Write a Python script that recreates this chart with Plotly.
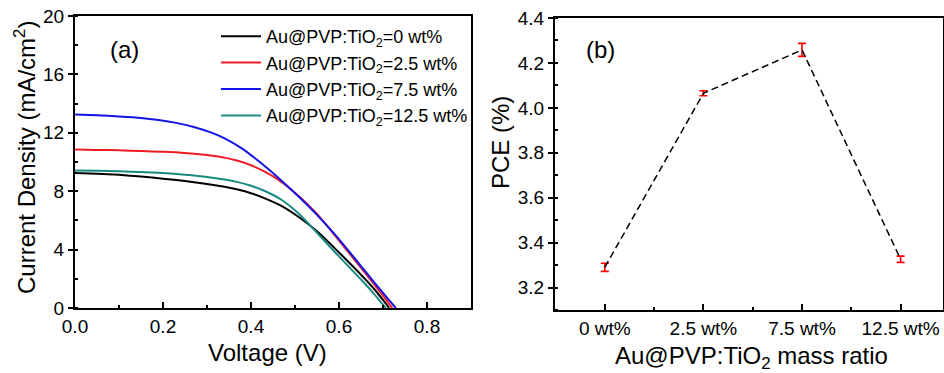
import plotly.graph_objects as go

# ---------------- data: panel (a) J-V curves ----------------
v_0wt = [0.0, 0.05, 0.1, 0.15, 0.2, 0.25, 0.3, 0.34, 0.37, 0.4, 0.43, 0.47, 0.51, 0.55, 0.59, 0.62, 0.65, 0.68, 0.70, 0.714]
j_0wt = [9.25, 9.20, 9.12, 9.00, 8.86, 8.70, 8.50, 8.30, 8.11, 7.86, 7.53, 6.98, 6.20, 5.25, 4.10, 3.20, 2.28, 1.30, 0.55, 0.0]

v_25wt = [0.0, 0.05, 0.1, 0.15, 0.2, 0.25, 0.3, 0.34, 0.37, 0.4, 0.43, 0.46, 0.5, 0.55, 0.59, 0.62, 0.65, 0.68, 0.70, 0.721]
j_25wt = [10.86, 10.83, 10.80, 10.75, 10.70, 10.62, 10.48, 10.30, 10.08, 9.78, 9.35, 8.82, 7.90, 6.45, 5.00, 3.88, 2.75, 1.62, 0.85, 0.0]

v_75wt = [0.0, 0.05, 0.1, 0.15, 0.19, 0.23, 0.27, 0.31, 0.34, 0.38, 0.41, 0.44, 0.47, 0.51, 0.55, 0.59, 0.62, 0.65, 0.68, 0.71, 0.729]
j_75wt = [13.25, 13.20, 13.12, 13.02, 12.88, 12.68, 12.40, 12.01, 11.62, 10.92, 10.24, 9.50, 8.70, 7.58, 6.38, 5.06, 3.98, 2.87, 1.76, 0.68, 0.0]

v_125wt = [0.0, 0.05, 0.1, 0.15, 0.2, 0.25, 0.3, 0.34, 0.37, 0.4, 0.43, 0.47, 0.51, 0.55, 0.59, 0.62, 0.65, 0.68, 0.706]
j_125wt = [9.42, 9.40, 9.36, 9.31, 9.24, 9.13, 8.98, 8.80, 8.62, 8.37, 8.03, 7.40, 6.42, 5.15, 3.85, 2.90, 1.95, 0.95, 0.0]

series_names = [
    "Au@PVP:TiO<sub>2</sub>=0 wt%",
    "Au@PVP:TiO<sub>2</sub>=2.5 wt%",
    "Au@PVP:TiO<sub>2</sub>=7.5 wt%",
    "Au@PVP:TiO<sub>2</sub>=12.5 wt%",
]
series_colors = ["#000000", "#ee1c24", "#1414e6", "#1a8a80"]

# ---------------- data: panel (b) PCE ----------------
ratio_labels = ["0 wt%", "2.5 wt%", "7.5 wt%", "12.5 wt%"]
pce_values = [3.29, 4.065, 4.258, 3.326]
pce_errors = [0.018, 0.011, 0.029, 0.014]

W, H = 944, 373
FONT = "Liberation Sans, Arial, sans-serif"

def px_x(p):
    return p / W

def px_y(p):
    return (H - p) / H

fig = go.Figure()

jv = [(v_0wt, j_0wt), (v_25wt, j_25wt), (v_75wt, j_75wt), (v_125wt, j_125wt)]
for (vv, jj), name, col in zip(jv, series_names, series_colors):
    fig.add_trace(go.Scatter(
        x=vv, y=jj, mode="lines", name=name,
        line=dict(color=col, width=2, shape="spline", smoothing=0.6),
        xaxis="x", yaxis="y",
    ))

fig.add_trace(go.Scatter(
    x=list(range(len(ratio_labels))), y=pce_values, mode="lines",
    line=dict(color="#000000", width=1.5, dash="7px,4px"),
    error_y=dict(type="data", array=pce_errors, visible=True,
                 color="#ff0000", thickness=1.6, width=4),
    showlegend=False, xaxis="x2", yaxis="y2",
))

tickfont = dict(family=FONT, size=19, color="#000")
axis_common = dict(showline=True, linecolor="#000", linewidth=2,
                   showgrid=False, zeroline=False, tickfont=tickfont,
                   tickcolor="#000", automargin=False)
overlay_common = dict(showticklabels=False, showline=False, showgrid=False,
                      zeroline=False, tickcolor="#000", automargin=False)

dom_ax = [px_x(75), px_x(471)]
dom_ay = [px_y(308), px_y(16)]
dom_bx = [px_x(555), px_x(943)]
dom_by = [px_y(310), px_y(18)]

minor_y_a = dict(dtick=2, ticks="inside", ticklen=3, tickwidth=1.5, tickcolor="#000")
minor_x_a = dict(dtick=0.1, ticks="inside", ticklen=3, tickwidth=1.5, tickcolor="#000")
minor_x_b = dict(tickvals=[0.5, 1.5, 2.5], ticks="inside", ticklen=3, tickwidth=1.5, tickcolor="#000")
minor_y_b = dict(dtick=0.1, ticks="inside", ticklen=3, tickwidth=1.5, tickcolor="#000")

fig.update_layout(
    width=W, height=H,
    margin=dict(l=0, r=0, t=0, b=0, autoexpand=False),
    paper_bgcolor="white", plot_bgcolor="white",
    font=dict(family=FONT, color="#000"),
    showlegend=True,
    legend=dict(x=px_x(216), y=px_y(18), xanchor="left", yanchor="top",
                bgcolor="rgba(0,0,0,0)", font=dict(family=FONT, size=18),
                itemwidth=40, tracegroupgap=0),
    xaxis=dict(domain=dom_ax, range=[0, 0.9], anchor="y", mirror=True,
               tickmode="linear", tick0=0, dtick=0.2, tickformat=".1f",
               ticks="inside", ticklen=6, tickwidth=1.5, minor=minor_x_a,
               **axis_common),
    yaxis=dict(domain=dom_ay, range=[0, 20], anchor="x", mirror=True,
               tickmode="linear", tick0=0, dtick=4,
               ticks="outside", ticklen=5, tickwidth=1.5, minor=minor_y_a,
               **axis_common),
    xaxis3=dict(overlaying="x", side="top", anchor="y", range=[0, 0.9],
                tickmode="linear", tick0=0, dtick=0.2, ticks="inside", ticklen=6,
                tickwidth=1.5, minor=minor_x_a, **overlay_common),
    yaxis3=dict(overlaying="y", side="right", anchor="x", range=[0, 20],
                tickmode="linear", tick0=0, dtick=4, ticks="inside", ticklen=6,
                tickwidth=1.5, minor=minor_y_a, **overlay_common),
    xaxis2=dict(domain=dom_bx, range=[-0.505, 3.43], anchor="y2", mirror=True,
                tickmode="array", tickvals=list(range(len(ratio_labels))), ticktext=ratio_labels,
                ticks="inside", ticklen=6, tickwidth=1.5, minor=minor_x_b,
                **axis_common),
    yaxis2=dict(domain=dom_by, range=[3.1, 4.4], anchor="x2", mirror=True,
                tickmode="linear", tick0=3.2, dtick=0.2, tickformat=".1f",
                ticks="outside", ticklen=5, tickwidth=1.5, minor=minor_y_b,
                **axis_common),
    xaxis4=dict(overlaying="x2", side="top", anchor="y2", range=[-0.505, 3.43],
                tickmode="array", tickvals=list(range(len(ratio_labels))), ticks="inside",
                ticklen=6, tickwidth=1.5, minor=minor_x_b, **overlay_common),
    yaxis4=dict(overlaying="y2", side="right", anchor="x2", range=[3.1, 4.4],
                tickmode="linear", tick0=3.2, dtick=0.2, ticks="inside", ticklen=6,
                tickwidth=1.5, minor=minor_y_b, **overlay_common),
)

annots = [
    dict(text="Current Density (mA/cm<sup>2</sup>)", x=px_x(25), y=px_y(158), textangle=-90, size=24),
    dict(text="Voltage (V)", x=px_x(267), y=px_y(352), size=24),
    dict(text="PCE (%)", x=px_x(500), y=px_y(143), textangle=-90, size=24),
    dict(text="Au@PVP:TiO<sub>2</sub> mass ratio", x=px_x(751), y=px_y(357), size=24),
    dict(text="(a)", x=px_x(124), y=px_y(50), size=24),
    dict(text="(b)", x=px_x(600), y=px_y(50), size=24),
]
for a in annots:
    size = a.pop("size")
    fig.add_annotation(xref="paper", yref="paper", xanchor="center", yanchor="middle",
                       showarrow=False, font=dict(family=FONT, size=size, color="#000"), **a)

fig.write_html("out.html",
               config={"displayModeBar": False},
               post_script="document.body.style.margin='0';document.body.style.overflow='hidden';")
